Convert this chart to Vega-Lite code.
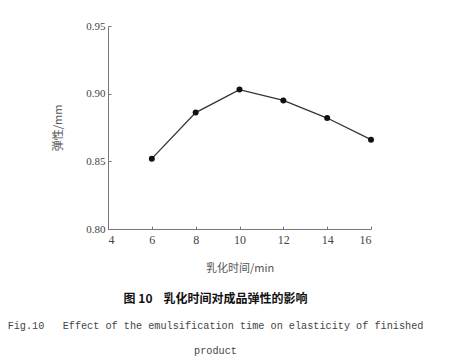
{
  "$schema": "https://vega.github.io/schema/vega-lite/v6.json",
  "autosize": "none",
  "width": 263,
  "height": 203,
  "padding": {"left": 108, "top": 26, "right": 78, "bottom": 131},
  "background": "white",
  "config": {"view": {"stroke": null}},
  "data": {"values": [
    {"t": 6, "e": 0.852},
    {"t": 8, "e": 0.886},
    {"t": 10, "e": 0.903},
    {"t": 12, "e": 0.895},
    {"t": 14, "e": 0.882},
    {"t": 16, "e": 0.866}
  ]},
  "title": {
    "text": "图 10\u00a0\u00a0\u00a0\u00a0乳化时间对成品弹性的影响",
    "orient": "bottom",
    "anchor": "middle",
    "frame": "group",
    "dx": -24,
    "offset": 21,
    "font": "Noto Sans CJK SC",
    "fontSize": 12,
    "fontWeight": "bold",
    "color": "#111",
    "subtitle": ["Fig.10\u00a0\u00a0\u00a0Effect of the emulsification time on elasticity of finished", "product"],
    "subtitleFont": "Liberation Mono",
    "subtitleFontSize": 10.2,
    "subtitleColor": "#444",
    "subtitleLineHeight": 25,
    "subtitlePadding": 15
  },
  "layer": [
    {
      "mark": {"type": "line", "color": "#333", "strokeWidth": 1.3},
      "encoding": {
        "x": {"field": "t", "type": "quantitative", "scale": {"domain": [4, 16], "nice": false},
          "axis": {"title": "乳化时间/min", "values": [4, 6, 8, 10, 12, 14, 16], "grid": false,
            "tickSize": -3, "tickColor": "#777", "domainColor": "#777", "labelFont": "Liberation Serif",
            "labelFontSize": 12, "labelColor": "#444", "labelPadding": 8,
            "titleFont": "Noto Sans CJK SC", "titleFontSize": 11, "titleFontWeight": "normal", "titleColor": "#555", "titlePadding": 17}},
        "y": {"field": "e", "type": "quantitative", "scale": {"domain": [0.8, 0.95], "nice": false, "zero": false},
          "axis": {"title": "弹性/mm", "values": [0.8, 0.85, 0.9, 0.95], "format": ".2f", "grid": false,
            "tickSize": -3, "tickColor": "#777", "domainColor": "#777", "labelFont": "Liberation Serif",
            "labelFontSize": 11, "labelColor": "#444", "labelPadding": 6,
            "titleFont": "Noto Sans CJK SC", "titleFontSize": 11, "titleFontWeight": "normal", "titleColor": "#555", "titlePadding": 22}}
      }
    },
    {
      "mark": {"type": "point", "filled": true, "color": "#111", "size": 36, "opacity": 1},
      "encoding": {
        "x": {"field": "t", "type": "quantitative"},
        "y": {"field": "e", "type": "quantitative"}
      }
    }
  ]
}
